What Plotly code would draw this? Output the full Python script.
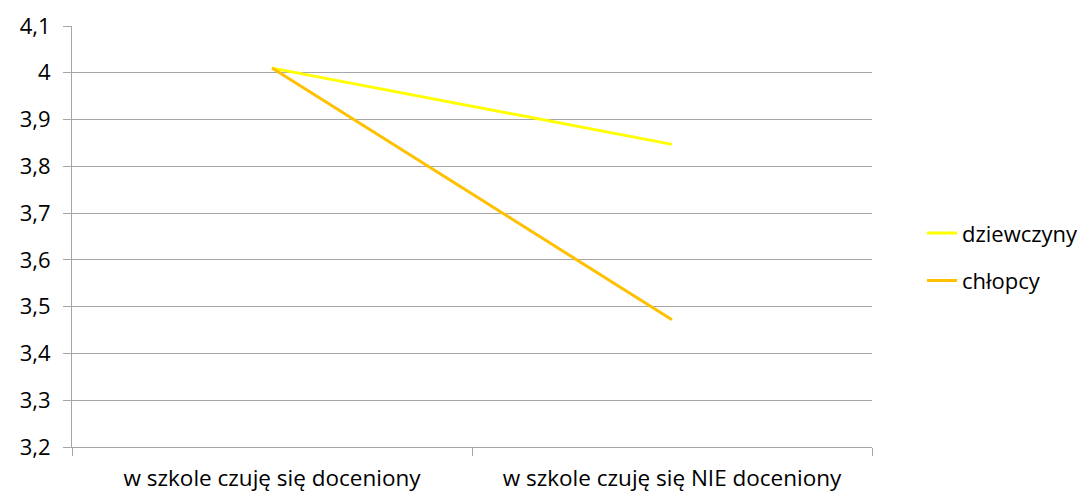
import plotly.graph_objects as go

categories = ["w szkole czuję się doceniony", "w szkole czuję się NIE doceniony"]
dziewczyny = [4.01, 3.847]
chlopcy = [4.01, 3.472]

font = dict(family="Open Sans, sans-serif", size=22, color="#000000")

fig = go.Figure()
fig.add_trace(go.Scatter(x=categories, y=dziewczyny, mode="lines", name="dziewczyny",
                         legendgroup="a", line=dict(color="#FFFF00", width=3)))
fig.add_trace(go.Scatter(x=categories, y=chlopcy, mode="lines", name="chłopcy",
                         legendgroup="b", line=dict(color="#FFC000", width=3)))

# the page body adds an 8px offset, so margins are shifted to compensate
fig.update_layout(
    width=1089, height=494,
    margin=dict(l=64, r=225, t=18, b=55),
    paper_bgcolor="white", plot_bgcolor="white",
    separators=", ",
    font=font,
    showlegend=True,
    legend=dict(x=1.0625, y=0.451, yanchor="middle", xanchor="left",
                font=dict(size=22), tracegroupgap=16),
)
fig.update_yaxes(range=[3.2, 4.1], dtick=0.1, tick0=3.2, automargin=False,
                 showgrid=True, gridcolor="#A6A6A6", gridwidth=1,
                 showline=True, linecolor="#A6A6A6", linewidth=1,
                 ticks="outside", ticklen=8, tickcolor="#A6A6A6",
                 zeroline=False, ticklabelstandoff=8)
fig.update_xaxes(range=[-0.5, 1.5], showgrid=False, automargin=False,
                 showline=True, linecolor="#A6A6A6", linewidth=1,
                 ticks="outside", ticklen=8, tickcolor="#A6A6A6",
                 tickson="boundaries", ticklabelstandoff=11,
                 tickfont=dict(size=22.5))

fig.write_html("out.html")
